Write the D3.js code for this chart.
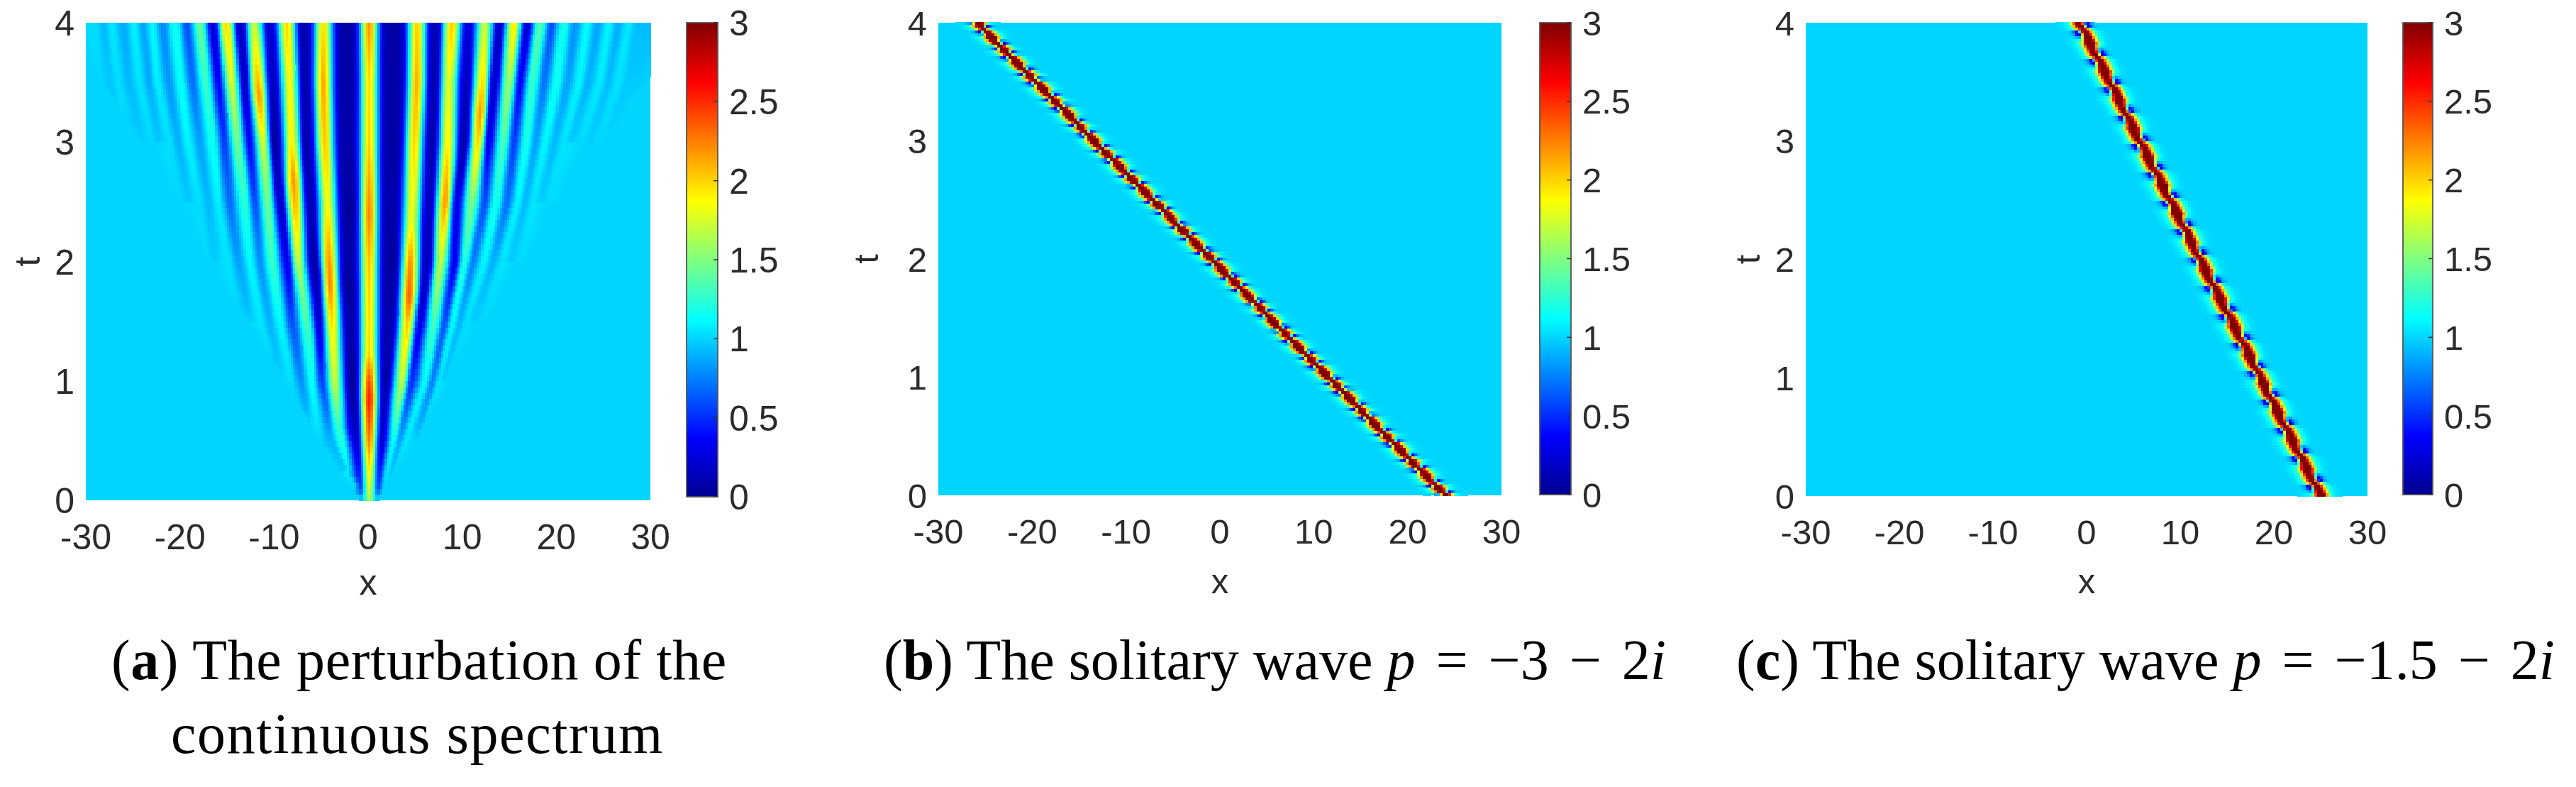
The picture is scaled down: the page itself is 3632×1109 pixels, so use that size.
<!DOCTYPE html>
<html><head><meta charset="utf-8">
<style>html,body{margin:0;padding:0;background:#fff}svg{display:block}</style>
<script src="https://cdn.jsdelivr.net/npm/d3@7"></script>
</head><body>
<svg id="fig" width="3632" height="1109" viewBox="0 0 3632 1109"></svg>
<script>
// ---- tick labels ----
const xTicks = [-30,-20,-10,0,10,20,30];
const tTicks = [0,1,2,3,4];
const cbTicks = [0,0.5,1,1.5,2,2.5,3];
const background = 1;

// ---- panel (a): crests and troughs: [t values, x values, height values] ----
const centreCrest = [[0,.1,.3,.5,.85,1,1.25,1.5,2,2.4,3,3.5,4],[.12,.12,.12,.12,.12,.12,.12,.12,.12,.12,.12,.12,.12],[1.6,1.75,1.95,2.25,2.55,2.4,1.97,1.95,2.05,2.25,2,1.95,2.2]];
const rightEdgeT = [0,.1,.5,1,1.5,2,2.5,3,3.5,4];
const rightEdgeX = [1.2,1.85,5.1,9.1,12.9,16.7,20.7,25,30,33];
const leftEdgeT = [0,.1,.27,.5,1,1.4,1.8,2.5,3,3.5,4];
const leftEdgeX = [-1,-1.7,-3.5,-5.2,-9,-12,-15.5,-21.5,-24.5,-28.3,-33];
const rightCrests = [
 [[0,.1,.5,1,1.5,1.7,2,2.3,2.5,3,3.5,4],[1.4,1.7,2.7,3.6,4.2,4.35,4.5,4.6,4.7,4.9,5.15,5.2],[1,1.02,1.15,1.7,2.05,2.35,2.2,1.85,1.85,2,2.1,2]],
 [[.1,.5,1,1.5,2,2.5,3,3.5,4],[2.1,3.97,6.1,7,7.7,8.2,8.5,8.6,8.9],[1,1.05,1.12,1.35,1.7,2.2,1.9,1.8,2.05]],
 [[.5,1,1.5,2,2.5,3,3.25,3.5,4],[5.5,7.6,9,10.25,11,11.7,11.9,12.1,12.4],[1,1.05,1.12,1.25,1.5,2,2.2,1.95,1.7]],
 [[1,1.5,2,2.5,3,3.5,4],[8.4,10.4,12.3,13.6,14.4,15,15.5],[1,1.03,1.1,1.2,1.35,1.6,1.95]],
 [[1.5,2,2.5,3,3.5,4],[12.1,14.3,15.9,16.8,17.4,18.3],[1.01,1.05,1.1,1.2,1.3,1.4]],
 [[2,2.5,3,3.5,4],[16.2,17.5,18.8,20,20.8],[1.02,1.05,1.1,1.17,1.2]],
 [[2.5,3,3.5,4],[19.2,20.8,22.4,23.3],[1.02,1.05,1.1,1.13]],
 [[3,3.5,4],[22.7,24.6,25.6],[1.02,1.07,1.1]],
 [[3,3.5,4],[24.4,26.5,27.7],[1.01,1.04,1.07]]
];
const rightTroughs = [
 [[0,.1,.5,1,1.5,2,2.5,3,3.5,4],[.9,1.1,1.45,1.85,2.3,2.7,2.35,2.7,2.7,2.6],[1,.6,.2,.08,.1,.05,.1,.07,.08,.07]],
 [[.1,.5,1,1.5,2,2.5,3,3.5,4],[1.9,3.35,4.6,5.5,6.35,6.5,6.85,7.1,7.2],[1,.85,.5,.25,.1,.15,.1,.1,.12]],
 [[.5,1,1.5,2,2.5,3,3.5,4],[5,6.85,8.2,9.25,9.4,10.2,10.5,10.6],[.95,.75,.6,.3,.25,.05,.15,.25]],
 [[1,1.5,2,2.5,3,3.5,4],[8,9.75,11.1,12.4,12.75,13.4,14],[.98,.9,.75,.6,.3,.15,.15]],
 [[1.5,2,2.5,3,3.5,4],[11.25,13.3,14.8,15.5,16.15,16.9],[.98,.9,.7,.55,.35,.2]],
 [[2,2.5,3,3.5,4],[15.15,16.7,17.8,18.7,19.5],[.98,.92,.85,.72,.6]],
 [[2.5,3,3.5,4],[18.3,19.8,21.2,22],[.98,.92,.85,.8]],
 [[3,3.5,4],[21.5,23.4,24.4],[.97,.9,.85]],
 [[3,3.5,4],[23.6,25.5,26.6],[.98,.93,.88]],
 [[3,3.5,4],[25.3,27.5,28.7],[.99,.97,.93]]
];
const leftCrests = [
 [[.1,.27,.62,1,1.41,1.8,2,2.5,3,3.5,4],[-1.55,-2.3,-3.2,-3.55,-3.8,-4.05,-4.15,-4.3,-4.6,-4.75,-4.75],[1,1.1,1.3,1.7,1.9,2.25,2.2,1.85,2.05,2.15,1.95]],
 [[.5,1,1.4,1.8,2,2.5,2.7,3,3.5,4],[-5.2,-5.95,-6.3,-7.1,-7.45,-7.8,-7.95,-8.1,-8.35,-8.65],[1.02,1.15,1.3,1.5,1.7,2.1,2.2,1.9,1.85,2]],
 [[.75,1,1.5,2,2.5,3,3.4,3.5,4],[-7.5,-8.2,-9.35,-10.2,-10.7,-11.1,-11.6,-11.7,-12.1],[1,1.03,1.12,1.3,1.45,1.75,2.2,2.1,1.7]],
 [[1.1,1.5,2,2.5,3,3.5,4],[-10,-11.4,-12.5,-13.1,-13.9,-14.5,-15.1],[1.01,1.05,1.12,1.25,1.45,1.75,2]],
 [[1.5,2,2.5,3,3.5,4],[-13.75,-14.9,-15.9,-16.5,-17.25,-17.9],[1.01,1.04,1.08,1.18,1.3,1.45]],
 [[2,2.5,3,3.5,4],[-17.1,-18,-19.15,-19.9,-20.5],[1.01,1.03,1.1,1.15,1.18]],
 [[2.5,3,3.5,4],[-20,-21.15,-22.4,-23],[1.01,1.03,1.08,1.12]],
 [[3,3.5,4],[-23,-24.3,-24.9],[1.01,1.05,1.09]],
 [[3,3.5,4],[-25.5,-26.55,-27.3],[1.01,1.03,1.06]],
 [[3.2,3.5,4],[-27.2,-28.4,-29.2],[1,1.01,1.03]]
];
const leftTroughs = [
 [[0,.1,.5,1,1.5,1.8,2,2.5,3,3.5,4],[-.7,-.8,-1.2,-1.55,-1.8,-2.2,-2.2,-1.95,-2.3,-2.2,-2.2],[1,.55,.2,.03,.1,.03,.08,.05,.1,.08,.08]],
 [[.1,.5,1,1.5,1.9,2.5,3,3.5,4],[-1.25,-3.9,-4.9,-5.2,-5.5,-6.2,-6.6,-6.75,-6.85],[1,.9,.55,.2,.05,.12,.1,.1,.1]],
 [[.6,1,1.5,2,2.5,3,3.5,4],[-6.2,-7.1,-8.1,-8.6,-9.35,-10,-10.2,-10.5],[.98,.8,.6,.3,.15,.05,.15,.2]],
 [[1,1.5,2,2.5,3,3.5,4],[-9.2,-10.5,-11.5,-12,-12.6,-13.1,-13.6],[.98,.9,.8,.6,.35,.15,.1]],
 [[1.5,2,2.5,3,3.5,4],[-12.5,-13.75,-14.75,-15.25,-15.9,-16.5],[.97,.85,.7,.55,.35,.2]],
 [[2,2.5,3,3.5,4],[-16.25,-17,-17.9,-18.65,-19.25],[.98,.92,.85,.7,.6]],
 [[2.5,3,3.5,4],[-19,-20.15,-21.15,-21.9],[.97,.9,.82,.78]],
 [[3,3.5,4],[-22.2,-23.3,-23.9],[.96,.88,.85]],
 [[3,3.5,4],[-24,-25.4,-26],[.98,.92,.87]],
 [[3.1,3.5,4],[-26,-27.4,-28.1],[.99,.96,.92]]
];

// ---- panels (b), (c): soliton track and cross-section ----
const trackT = [0,4];
const trackXb = [24.1,-25.85];
const trackXc = [25,-0.75];
const sectionOffsets = [-2.6,-1.75,-1.2,-.9,-.65,-.35,0,.35,.65,.9,1.2,1.75,2.6];
const sectionNode      = [1,1.06,1.2,1.5,2,2.5,3.6,2.5,2,1.5,1.1,1,1];
const sectionBlueRight = [1,1.05,1.25,1.8,2.3,3.1,3.7,2,.25,.35,.85,1,1];
const sectionBlueLeft  = [1,1,.85,.35,.25,2,3.7,3.1,2.3,1.8,1.25,1.05,1];
const sectionBlob      = [1,1.08,1.25,1.7,2.4,3.4,3.9,3.4,2.4,1.7,1.2,1.03,1];
const phaseB = [0,.06,.13,.19,.25,.32,.376,.44,.52,.69,.85,.93,1];
const phaseSectionsB = [sectionNode,sectionBlueRight,sectionBlueRight,sectionBlob,sectionBlueLeft,sectionBlueLeft,sectionNode,sectionBlueRight,sectionBlueRight,sectionBlob,sectionBlueLeft,sectionBlueLeft,sectionNode];
const phaseC = [0,.1,.2,.5,.8,.9,1];
const phaseSectionsC = [sectionNode,sectionBlueRight,sectionBlueRight,sectionBlob,sectionBlueLeft,sectionBlueLeft,sectionNode];
const periodB = 0.218, nodeTb = 0.457;
const periodC = 0.24, nodeTc = 0.108;

// ---- captions ----
const captions = {
  a: [["(",""],["a","b"],[") The perturbation of the",""]],
  a2: [["continuous spectrum",""]],
  b: [["(",""],["b","b"],[") The solitary wave ",""],["p","i"],[" = \u22123 \u2212 2","m"],["i","i"]],
  c: [["(",""],["c","b"],[") The solitary wave ",""],["p","i"],[" = \u22121.5 \u2212 2","m"],["i","i"]]
};

// ---- colour scale: jet over [0,3] ----
const jet = d3.scaleLinear()
  .domain([0,.375,1.125,1.875,2.625,3])
  .range(["#00008f","#0000ff","#00ffff","#ffff00","#ff0000","#800000"])
  .clamp(true);

const svg = d3.select("#fig");
const tickFont = "'Liberation Sans', Arial, sans-serif";
const inkColor = "#2b2b2b";

// ---- panel (a) field from the crest/trough tables ----
const ridgeTable = [centreCrest,...rightCrests,...rightTroughs,...leftCrests,...leftTroughs].map(r=>({
  t0:r[0][0],
  x:d3.scaleLinear().domain(r[0]).range(r[1]).clamp(true),
  v:d3.scaleLinear().domain(r[0]).range(r[2]).clamp(true)
}));
const rightEdge = d3.scaleLinear().domain(rightEdgeT).range(rightEdgeX);
const leftEdge = d3.scaleLinear().domain(leftEdgeT).range(leftEdgeX);
function rowKnots(t){
  const er=rightEdge(t), el=leftEdge(t);
  const k=[];
  ridgeTable.filter(r=>t>=r.t0).forEach(r=>{
    const x=r.x(t);
    if(x>=er||x<=el) return;
    const fade=Math.min(1,Math.min(er-x,x-el)/.6);
    k.push({x,v:background+(r.v(t)-background)*fade});
  });
  k.push({x:el,v:background},{x:er,v:background},{x:-40,v:background},{x:40,v:background});
  return k.sort((a,b)=>a.x-b.x);
}
function fieldA(x,knots){
  const i = Math.max(1,d3.bisectRight(knots.map(k=>k.x),x));
  const a = knots[i-1], b = knots[Math.min(i,knots.length-1)];
  const gap = Math.max(b.x-a.x,1e-6);
  const s = Math.min(1,Math.max(0,(x-a.x)/gap));
  const hi = Math.max(a.v,b.v), lo = Math.min(a.v,b.v);
  const fromPeak = a.v>=b.v ? s : 1-s;
  const p = Math.min(5,Math.max(2,2*Math.pow(gap/1.6,2)));
  return lo+(hi-lo)*Math.pow(Math.cos(fromPeak*Math.PI/2),p);
}
function cellsA(){
  const out=[], dx=.25, dt=.05;
  d3.range(0,4,dt).forEach(t=>{
    const knots=rowKnots(t+dt/2);
    d3.range(-30,30,dx).forEach(x=>{
      const v=fieldA(x+dx/2,knots);
      if(Math.abs(v-background)>.004) out.push({x,t,dx,dt,v});
    });
  });
  return out;
}
function cellsSoliton(trackX,phases,sections,period,nodeT){
  const track=d3.scaleLinear().domain(trackT).range(trackX);
  const byOffset=sectionOffsets.map((_,j)=>d3.scaleLinear().domain(phases).range(sections.map(s=>s[j])));
  const out=[], dx=.3, dt=.024;
  d3.range(0,4-1e-9,dt).forEach(t=>{
    const tc=t+dt/2;
    const ph=((tc-nodeT)/period%1+1)%1;
    const section=d3.scaleLinear().domain(sectionOffsets).range(byOffset.map(f=>f(ph))).clamp(true);
    const cx=track(tc), col0=Math.round(cx/dx)*dx;
    d3.range(-10,10).forEach(n=>{
      const x=col0+n*dx;
      if(x<-30||x>=30) return;
      const v=section(x+dx/2-cx);
      if(Math.abs(v-background)>.004) out.push({x,t,dx,dt,v});
    });
  });
  return out;
}

// ---- panels ----
function panel(cfg){
  const x=d3.scaleLinear().domain([-30,30]).range([cfg.left,cfg.right]);
  const y=d3.scaleLinear().domain([0,4]).range([cfg.bottom,cfg.top]);
  const g=svg.append("g");
  g.append("rect").attr("x",cfg.left).attr("y",cfg.top)
    .attr("width",cfg.right-cfg.left).attr("height",cfg.bottom-cfg.top).attr("fill",jet(background));
  g.append("g").attr("shape-rendering","crispEdges").selectAll("rect").data(cfg.cells).join("rect")
    .attr("x",d=>x(d.x)).attr("y",d=>y(d.t+d.dt))
    .attr("width",d=>x(d.x+d.dx)-x(d.x)+.5).attr("height",d=>y(d.t)-y(d.t+d.dt)+.5)
    .attr("fill",d=>jet(d.v));
  const fs=cfg.fontSize;
  g.append("g").selectAll("text").data(xTicks).join("text")
    .attr("x",d=>x(d)).attr("y",cfg.bottom+cfg.xLabelDy).attr("text-anchor","middle")
    .attr("font-family",tickFont).attr("font-size",fs).attr("fill",inkColor).text(d=>d);
  g.append("g").selectAll("text").data(tTicks).join("text")
    .attr("x",cfg.left-16).attr("y",d=>y(d)+fs*.36).attr("text-anchor","end")
    .attr("font-family",tickFont).attr("font-size",fs).attr("fill",inkColor).text(d=>d);
  g.append("text").attr("x",(cfg.left+cfg.right)/2).attr("y",cfg.xTitleY).attr("text-anchor","middle")
    .attr("font-family",tickFont).attr("font-size",fs).attr("fill",inkColor).text("x");
  g.append("text").attr("transform",`translate(${cfg.left-cfg.tDx},${(cfg.top+cfg.bottom)/2}) rotate(-90)`)
    .attr("text-anchor","middle").attr("font-family",tickFont).attr("font-size",fs).attr("fill",inkColor).text("t");
  // colour bar
  const c=d3.scaleLinear().domain([0,3]).range([cfg.cbBottom,cfg.cbTop]);
  const steps=d3.range(0,3,3/256);
  g.append("g").attr("shape-rendering","crispEdges").selectAll("rect").data(steps).join("rect")
    .attr("x",cfg.cbLeft).attr("width",cfg.cbRight-cfg.cbLeft)
    .attr("y",d=>c(d+3/256)).attr("height",d=>c(d)-c(d+3/256)+.6).attr("fill",d=>jet(d+1.5/256));
  g.append("rect").attr("x",cfg.cbLeft).attr("y",cfg.cbTop).attr("width",cfg.cbRight-cfg.cbLeft)
    .attr("height",cfg.cbBottom-cfg.cbTop).attr("fill","none").attr("stroke","#555").attr("stroke-width",1.8);
  g.append("g").selectAll("line").data(cbTicks).join("line")
    .attr("x1",cfg.cbRight-6).attr("x2",cfg.cbRight).attr("y1",d=>c(d)).attr("y2",d=>c(d))
    .attr("stroke","#333").attr("stroke-width",1.5);
  g.append("g").selectAll("text").data(cbTicks).join("text")
    .attr("x",cfg.cbRight+16).attr("y",d=>c(d)+fs*.36)
    .attr("font-family",tickFont).attr("font-size",fs).attr("fill",inkColor).text(d=>d);
}
panel({left:121,right:917,top:32,bottom:705,cbLeft:968,cbRight:1012,cbTop:32,cbBottom:700,fontSize:50,xLabelDy:69,xTitleY:838,tDx:65,cells:cellsA()});
panel({left:1323,right:2117,top:32,bottom:698,cbLeft:2171,cbRight:2215,cbTop:32,cbBottom:697,fontSize:49,xLabelDy:68,xTitleY:836,tDx:85,cells:cellsSoliton(trackXb,phaseB,phaseSectionsB,periodB,nodeTb)});
panel({left:2546,right:3338,top:32,bottom:699,cbLeft:3388,cbRight:3430,cbTop:32,cbBottom:697,fontSize:49,xLabelDy:68,xTitleY:836,tDx:65,cells:cellsSoliton(trackXc,phaseC,phaseSectionsC,periodC,nodeTc)});

// ---- captions ----
function caption(parts,x,y,letterSpacing){
  const t=svg.append("text").attr("x",x).attr("y",y)
    .attr("font-family","'Liberation Serif', serif").attr("font-size",80).attr("fill","#000")
    .attr("letter-spacing",letterSpacing||0).attr("xml:space","preserve");
  parts.forEach(p=>t.append("tspan").text(p[0])
    .attr("word-spacing",p[1]==="m"?9:null)
    .attr("font-weight",p[1]==="b"?"bold":null).attr("font-style",p[1]==="i"?"italic":null));
}
caption(captions.a,157,957,.6);
caption(captions.a2,241,1061,1.6);
caption(captions.b,1246,957);
caption(captions.c,2448,957);
</script>
</body></html>
